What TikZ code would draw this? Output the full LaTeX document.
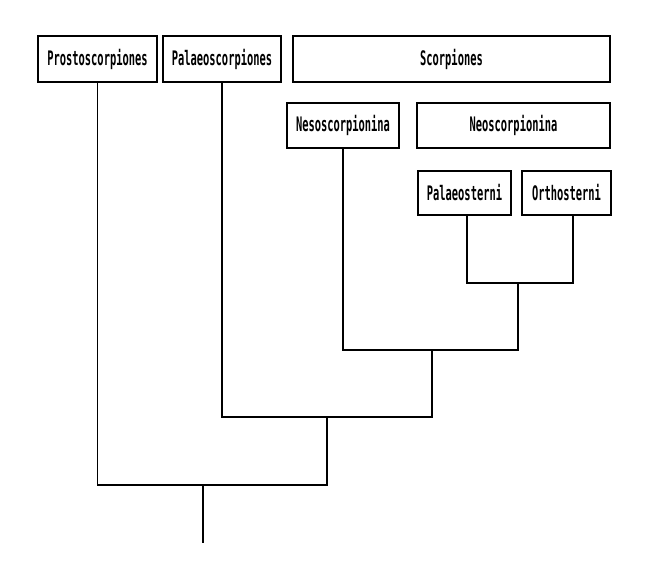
\documentclass[tikz,border=0pt]{standalone}
\usepackage{fontspec}
\newfontfamily\taxonfont{DejaVu Sans Mono}[FakeStretch=0.52]
\usepackage{tikz}
\usetikzlibrary{positioning}
\tikzset{
	taxon/.style={draw, line width=1.4pt, inner sep=0pt, font=\taxonfont\bfseries\fontsize{20}{20}\selectfont},
	branch/.style={line width=1.4pt}
}
\begin{document}
\begin{tikzpicture}[x=1pt, y=-1pt]
	\useasboundingbox (0,0) rectangle (649,581);
	% boxes
	\node[taxon, minimum width=119, minimum height=46] at (97.5,59) (prosto) {Prostoscorpiones};
	\node[taxon, minimum width=118, minimum height=46] at (222,59) (palaeo) {Palaeoscorpiones};
	\node[taxon, minimum width=317, minimum height=46] at (451.5,59) (scorp) {Scorpiones};
	\node[taxon, minimum width=112, minimum height=45] at (343,125.5) (neso) {Nesoscorpionina};
	\node[taxon, minimum width=193, minimum height=45] at (513.5,125.5) (neo) {Neoscorpionina};
	\node[taxon, minimum width=93, minimum height=44] at (464.5,193) (palaeost) {Palaeosterni};
	\node[taxon, minimum width=89, minimum height=44] at (566.5,193) (ortho) {Orthosterni};
	%
	\coordinate (j1) at (518,283);
	\coordinate (j2) at (432,350);
	\coordinate (j3) at (327,417);
	\coordinate (j4) at (203,485);
	\coordinate (root) at (203,543);
	% tree
	\draw[branch] ([xshift=2.5]palaeost.south) |- (j1) -| ([xshift=6.5]ortho.south);
	\draw[branch] (neso.south) |- (j2) -| (j1);
	\draw[branch] (palaeo.south) |- (j3) -| (j2);
	\draw[branch] (prosto.south) |- (j4) -| (j3);
	\draw[branch] (j4) -- (root);
\end{tikzpicture}
\end{document}
